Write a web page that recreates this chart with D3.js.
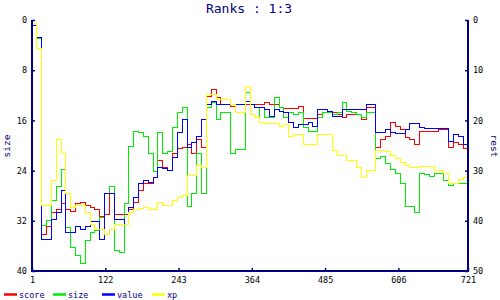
<!DOCTYPE html>
<html>
<head>
<meta charset="utf-8">
<script src="https://cdn.jsdelivr.net/npm/d3@7"></script>
<style>
  body { margin: 0; background: #fff; }
  text { font-family: "DejaVu Sans Mono", monospace; }
</style>
</head>
<body>
<svg width="500" height="300"></svg>
<script>
// x positions (turn index), sampled every 8 turns
const turns = d3.range(0, 91).map(k => 1 + k * 8);

// left axis (size, 0..40)
const size = [0.8, 2.9, 32.7, 31.9, 28.7, 26.6, 23.9, 33.0, 36.2, 37.5, 38.8, 35.1, 33.9, 33.5, 31.4, 27.6,
  26.6, 36.7, 37.1, 29.2, 20.2, 17.8, 18.0, 18.6, 21.2, 24.2, 18.0, 21.2, 21.0, 17.1, 14.8, 13.9,
  29.8, 27.6, 21.2, 27.6, 13.9, 13.2, 15.9, 14.8, 14.8, 21.2, 20.7, 20.7, 11.5, 15.1, 15.5, 14.0,
  15.5, 15.5, 12.3, 14.0, 15.5, 14.8, 15.1, 14.8, 17.2, 17.8, 17.8, 15.5, 14.8, 14.8, 15.1, 14.8,
  13.2, 14.6, 14.8, 15.1, 15.5, 14.8, 14.8, 22.0, 21.8, 22.8, 23.9, 24.4, 26.0, 29.8, 29.8, 30.6,
  24.4, 24.7, 25.0, 24.4, 24.4, 25.5, 26.3, 26.0, 26.0, 26.0, 26.6];

// right axis (rest, 0..50)
const score = [1.0, 3.4, 42.8, 41.2, 38.4, 37.8, 36.5, 37.8, 38.2, 36.5, 36.3, 36.9, 37.3, 37.8, 39.2, 38.8,
  34.5, 38.8, 38.8, 38.8, 37.8, 36.3, 33.9, 32.5, 32.5, 31.3, 27.9, 29.3, 29.9, 26.5, 25.5, 25.3,
  24.9, 26.5, 23.9, 25.3, 15.3, 13.9, 15.5, 16.9, 16.9, 17.3, 16.9, 16.9, 16.9, 16.9, 16.9, 16.9,
  16.5, 16.9, 16.9, 17.5, 17.7, 17.7, 17.7, 17.3, 19.7, 19.7, 19.7, 18.9, 18.5, 18.5, 18.5, 18.9,
  19.5, 18.9, 18.9, 18.9, 19.9, 17.5, 17.5, 25.3, 23.9, 23.3, 20.5, 21.3, 21.9, 23.5, 23.9, 24.9,
  22.3, 22.3, 22.3, 22.3, 21.9, 21.9, 25.3, 24.5, 24.9, 25.5, 24.9];

const value = [1.0, 3.4, 43.8, 43.8, 39.8, 38.4, 33.9, 42.4, 42.4, 41.2, 41.8, 41.2, 40.2, 40.2, 43.8, 34.5,
  34.5, 39.8, 39.8, 40.8, 37.3, 35.3, 32.5, 31.9, 32.3, 31.3, 29.3, 29.5, 29.9, 27.3, 22.5, 19.9,
  25.3, 24.5, 23.3, 19.9, 16.9, 16.3, 16.9, 16.9, 16.9, 16.9, 16.9, 16.9, 16.3, 16.9, 17.5, 17.5,
  17.9, 19.3, 17.9, 18.3, 18.5, 20.5, 21.5, 20.9, 20.9, 20.5, 21.3, 17.9, 17.9, 18.3, 19.3, 19.3,
  17.9, 17.9, 17.9, 17.9, 17.9, 16.9, 16.9, 22.5, 22.5, 21.9, 22.5, 22.7, 22.7, 21.9, 20.7, 20.7,
  21.5, 21.7, 21.7, 21.7, 21.7, 21.7, 24.3, 22.9, 23.3, 24.9, 25.3];

const xp = [0.6, 5.6, 36.9, 36.9, 31.9, 23.9, 26.5, 34.5, 37.3, 36.9, 36.9, 38.4, 40.8, 41.8, 41.8, 42.8,
  41.8, 40.8, 40.8, 40.8, 38.4, 37.8, 37.5, 37.3, 37.8, 37.8, 36.3, 36.9, 36.9, 35.9, 35.3, 34.9,
  30.9, 30.9, 28.9, 29.3, 14.9, 14.9, 15.9, 15.9, 15.9, 16.9, 18.5, 18.5, 13.3, 18.9, 19.5, 20.5,
  20.7, 20.7, 20.7, 21.3, 20.9, 23.3, 22.9, 22.9, 24.9, 24.9, 24.9, 22.9, 22.9, 22.9, 25.9, 26.9,
  26.9, 27.9, 27.9, 29.3, 31.3, 29.9, 29.9, 25.9, 25.9, 26.1, 26.9, 27.5, 28.3, 28.9, 29.3, 29.3,
  29.1, 29.1, 29.1, 29.9, 29.9, 30.5, 32.5, 32.5, 31.7, 31.3, 30.5];

const xTicks = [1, 122, 243, 364, 485, 606, 721];
const leftTicks = [0, 8, 16, 24, 32, 40];
const rightTicks = [0, 10, 20, 30, 40, 50];

const series = [
  { name: 'score', values: score, color: '#ff0000', axis: 'right' },
  { name: 'size', values: size, color: '#00ee00', axis: 'left' },
  { name: 'value', values: value, color: '#0000ff', axis: 'right' },
  { name: 'xp', values: xp, color: '#ffff00', axis: 'right' }
];

const navy = '#000080';
const svg = d3.select('svg');
const margin = { top: 20, right: 32, bottom: 29, left: 32 };
const width = 500, height = 300;

const x = d3.scaleLinear().domain([1, 721]).range([margin.left, width - margin.right]);
const yL = d3.scaleLinear().domain([0, 40]).range([margin.top, height - margin.bottom]);
const yR = d3.scaleLinear().domain([0, 50]).range([margin.top, height - margin.bottom]);

// title
svg.append('text')
  .attr('x', 249).attr('y', 13)
  .attr('text-anchor', 'middle')
  .attr('font-size', 13)
  .attr('fill', navy)
  .text('Ranks : 1:3');

// lines
const lines = svg.append('g').attr('shape-rendering', 'crispEdges');
series.forEach(s => {
  const y = s.axis === 'left' ? yL : yR;
  const line = d3.line()
    .x((d, i) => x(turns[i]))
    .y(d => y(d))
    .curve(d3.curveStepAfter);
  lines.append('path')
    .datum(s.values)
    .attr('fill', 'none')
    .attr('stroke', s.color)
    .attr('stroke-width', 1)
    .attr('d', line);
});

// axes (ticks pointing inward)
function styleAxis(g) {
  g.select('.domain').remove();
  g.selectAll('.tick line').attr('stroke', navy).attr('stroke-width', 1.5);
  g.selectAll('.tick text').attr('fill', '#000').attr('font-size', 8.5)
    .attr('font-family', '"DejaVu Sans Mono", monospace');
}

svg.append('g')
  .attr('transform', `translate(${margin.left},0)`)
  .call(d3.axisRight(yL).tickValues(leftTicks).tickSize(3))
  .call(styleAxis)
  .call(g => g.selectAll('.tick text').attr('text-anchor', 'end').attr('x', -5));

svg.append('g')
  .attr('transform', `translate(${width - margin.right},0)`)
  .call(d3.axisLeft(yR).tickValues(rightTicks).tickSize(3))
  .call(styleAxis)
  .call(g => g.selectAll('.tick text').attr('text-anchor', 'start').attr('x', 5));

svg.append('g')
  .attr('transform', `translate(0,${height - margin.bottom})`)
  .call(d3.axisTop(x).tickValues(xTicks).tickSize(3))
  .call(styleAxis)
  .call(g => g.selectAll('.tick text').attr('y', 11.5).attr('dy', 0));

// frame: left, right and bottom
const frame = svg.append('g').attr('stroke', navy).attr('stroke-width', 2).attr('fill', 'none');
frame.append('path').attr('d',
  `M${margin.left},${margin.top}V${height - margin.bottom}H${width - margin.right}V${margin.top}`);

// axis titles
svg.append('text')
  .attr('transform', `translate(10,146) rotate(-90)`)
  .attr('text-anchor', 'middle')
  .attr('font-size', 9.5)
  .attr('fill', navy)
  .text('size');

svg.append('text')
  .attr('transform', `translate(491,146) rotate(90)`)
  .attr('text-anchor', 'middle')
  .attr('font-size', 9.5)
  .attr('fill', navy)
  .text('rest');

// legend
const legendX = [4, 53, 102, 152];
const legend = svg.append('g');
series.forEach((s, i) => {
  legend.append('line')
    .attr('x1', legendX[i]).attr('x2', legendX[i] + 13)
    .attr('y1', 294.5).attr('y2', 294.5)
    .attr('stroke', s.color).attr('stroke-width', 2.5);
  legend.append('text')
    .attr('x', legendX[i] + 15).attr('y', 297.5)
    .attr('font-size', 8.5)
    .attr('fill', navy)
    .text(s.name);
});
</script>
</body>
</html>
